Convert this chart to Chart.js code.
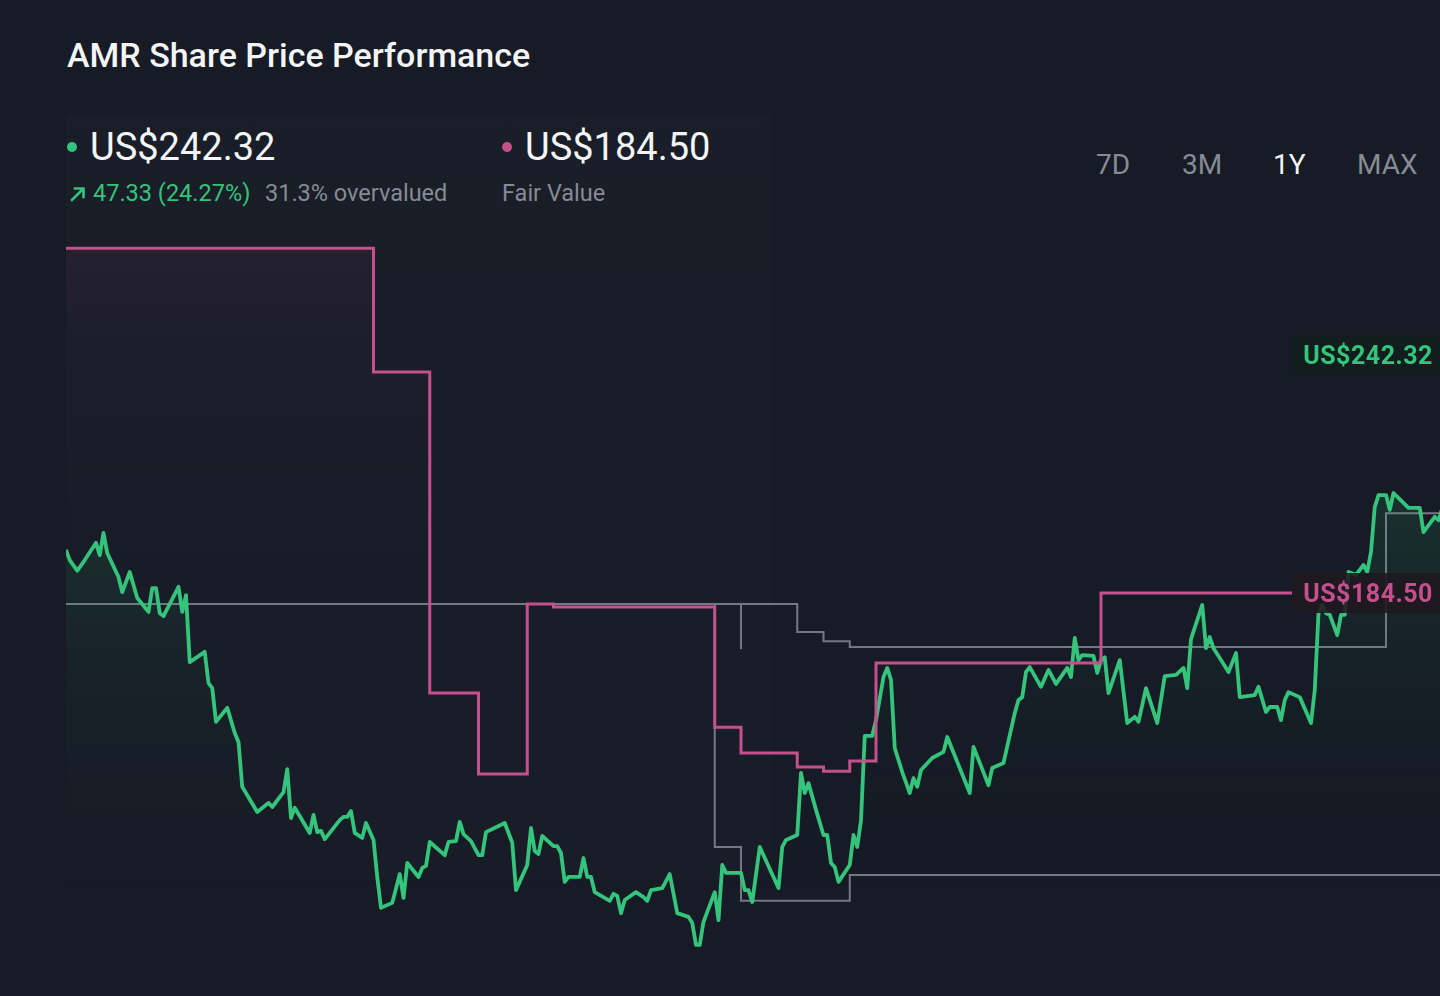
<!DOCTYPE html>
<html>
<head>
<meta charset="utf-8">
<script src="https://cdn.jsdelivr.net/npm/chart.js@4/dist/chart.umd.min.js"></script>
<style>
  html, body { margin: 0; padding: 0; }
  body { width: 1440px; height: 996px; background: #161b25; overflow: hidden; position: relative; font-family: Roboto, "Noto Sans", sans-serif; }
  .txt { position: absolute; white-space: nowrap; line-height: 1; transform-origin: 0 0; }
  #panel { position: absolute; left: 66px; top: 115px; width: 705px; height: 765px; background: linear-gradient(180deg, rgba(255,255,255,0.012), rgba(255,255,255,0.008)); }
  #title { left: 67px; top: 38px; font-size: 34px; font-weight: 500; color: #f4f5f7; }
  .dot { position: absolute; width: 10px; height: 10px; border-radius: 50%; }
  .big { top: 128px; font-size: 38px; color: #f4f5f7; }
  .sub { top: 182px; font-size: 23.5px; }
  .btn { top: 151px; font-size: 28px; color: #868b94; }
  #arrow { position: absolute; left: 69px; top: 185px; }
  #chartWrap { position: absolute; left: 66px; top: 230px; width: 1374px; height: 730px; }
</style>
</head>
<body>
<div id="panel"></div>
<div id="title" class="txt">AMR Share Price Performance</div>

<div class="dot" style="left:67px; top:142px; background:#35c47c;"></div>
<div class="txt big" style="left:90px;">US$242.32</div>
<svg id="arrow" width="18" height="18" viewBox="0 0 18 18">
  <path d="M3 15 L14 4 M6 3.5 H14.5 V12" stroke="#35c47c" stroke-width="2.6" fill="none" stroke-linecap="square"/>
</svg>
<div class="txt sub" style="left:93px; color:#35c47c;">47.33 (24.27%)</div>
<div class="txt sub" style="left:265px; color:#868b94;">31.3% overvalued</div>

<div class="dot" style="left:502px; top:142px; background:#c5508e;"></div>
<div class="txt big" style="left:525px;">US$184.50</div>
<div class="txt sub" style="left:502px; color:#868b94;">Fair Value</div>

<div class="txt btn" style="left:1096px;">7D</div>
<div class="txt btn" style="left:1182px;">3M</div>
<div class="txt btn" style="left:1273px; color:#f4f5f7;">1Y</div>
<div class="txt btn" style="left:1357px;">MAX</div>

<div id="chartWrap"><canvas id="priceChart"></canvas></div>

<script>
// share price, days since the start of the 1Y window
const priceDays = [0,1,3,5,8,9,10,11,14,15,17,19,22,23,24,25,26,30,31,32,33,37,38,39,40,43,45,46,47,51,54,55,58,59,60,61,65,66,67,68,69,73,74,75,76,77,79,80,82,83,84,87,89,90,91,94,95,96,97,101,102,104,105,106,108,110,111,112,117,119,120,123,124,125,126,127,130,131,132,133,134,137,138,139,140,141,145,146,147,148,149,152,154,155,156,159,161,163,166,167,168,169,170,173,174,175,176,180,181,182,183,185,190,191,192,195,196,197,198,200,202,203,204,205,206,209,210,211,212,213,215,216,218,219,220,221,223,225,226,227,228,231,234,235,241,242,246,247,250,253,254,255,256,257,260,262,264,267,268,269,270,271,274,275,276,277,278,281,283,285,286,288,291,293,296,298,299,300,303,304,305,306,308,310,312,313,317,318,320,321,323,324,325,326,329,332,333,334,335,336,337,339,340,341,342,344,346,347,348,349,350,352,353,354,358,361,362,365,366,380]
const priceValues = [195.0,192.5,189.9,192.5,196.7,193.7,199.1,194.2,188.4,184.7,189.6,183.3,179.9,185.7,185.7,179.6,178.9,186.0,179.9,184.0,167.7,170.2,162.6,161.4,153.2,156.6,150.5,148.3,137.4,131.3,133.5,132.5,136.1,141.7,129.8,132.3,126.2,130.6,126.4,126.7,124.7,129.3,130.1,130.1,131.5,126.2,125.0,128.6,124.5,115.5,108.0,109.2,116.2,110.4,118.9,115.5,117.7,118.2,124.0,120.8,124.0,124.2,128.9,125.9,124.2,120.8,120.8,126.4,128.6,123.8,112.3,118.4,127.4,121.8,121.1,125.5,123.0,123.0,121.3,114.3,115.5,115.5,120.1,115.5,115.5,111.8,109.7,111.4,110.9,106.7,109.9,111.8,110.6,109.7,112.3,112.8,116.2,106.7,105.8,104.3,99.0,99.0,104.6,111.8,105.0,118.4,116.5,116.5,112.3,112.3,109.4,122.8,112.8,122.8,124.5,125.7,140.8,135.9,138.3,131.8,125.7,125.7,118.9,117.9,114.3,118.4,125.7,122.8,129.3,149.8,149.8,153.6,164.1,166.3,163.4,146.8,141.0,135.9,139.5,137.4,141.5,144.4,145.9,149.5,135.9,147.1,137.8,142.0,143.2,155.3,158.5,159.2,165.3,166.5,161.7,165.8,162.4,166.3,164.1,173.6,168.2,169.4,169.2,165.1,168.2,168.9,160.2,168.2,152.9,154.4,153.2,161.4,152.9,164.3,164.6,166.3,161.4,173.3,181.6,171.1,173.8,171.1,168.2,165.3,169.9,159.2,159.7,161.7,155.6,156.8,156.8,153.6,158.5,160.4,159.2,152.9,160.9,179.6,181.6,179.6,179.2,174.3,179.2,179.2,189.6,188.9,191.3,189.6,194.5,205.4,208.3,208.3,204.7,208.8,205.2,205.2,199.3,203.0,202.2,242.32]

// fair value estimate (steps)
const fairDays = [0,82,97,110,123,130,173,180,195,202,209,216,276,327]
const fairValues = [268.3,238.2,160.2,140.5,181.8,181.1,151.9,145.6,142.2,141.2,143.7,167.5,184.5,184.5]

// analyst target range (steps)
const highDays = [0,180,180,195,202,209,352,380]
const highValues = [181.8,170.9,181.8,175.0,172.8,171.4,203.9,203.9]
const lowDays = [0,173,180,209,380]
const lowValues = [181.8,122.8,109.7,116.0,116.0]

const lastPrice = 242.32
const fairValue = 184.50
const labelDay = 327

const green = "#35c47c"
const pink = "#c5508e"
const grey = "#737984"

function toPoints(days, vals) {
  return days.map(function(d, i) { return {x: d, y: vals[i]} })
}

function fade(ctx, color, top, bottom) {
  const area = ctx.chart.chartArea
  if (!area) return "transparent"
  const g = ctx.chart.ctx.createLinearGradient(0, area.top + top, 0, area.top + bottom)
  g.addColorStop(0, color)
  g.addColorStop(1, "rgba(0,0,0,0)")
  return g
}

// price tags on the right edge
const priceTags = {
  id: "priceTags",
  afterDatasetsDraw(chart) {
    const c = chart.ctx
    const xs = chart.scales.x
    const ys = chart.scales.y
    const tags = [
      {v: lastPrice, text: "US$242.32", color: green, bg: "rgba(18,30,30,0.88)"},
      {v: fairValue, text: "US$184.50", color: pink, bg: "rgba(32,24,32,0.88)"}
    ]
    c.save()
    tags.forEach(function(t) {
      const y = ys.getPixelForValue(t.v)
      const x = xs.getPixelForValue(labelDay)
      c.fillStyle = t.bg
      c.fillRect(x, y - 20, chart.width - x, 40)
      c.fillStyle = t.color
      c.font = "bold 25px Roboto"
      c.textBaseline = "middle"
      if ("letterSpacing" in c) c.letterSpacing = "0.5px"
      c.fillText(t.text, x + 11, y + 3)
    })
    c.restore()
  }
}

new Chart(document.getElementById("priceChart"), {
  type: "line",
  data: {
    datasets: [{
      label: "Fair Value",
      data: toPoints(fairDays, fairValues),
      borderColor: pink,
      borderWidth: 3,
      stepped: true,
      pointRadius: 0,
      fill: "start",
      backgroundColor: function(ctx) { return fade(ctx, "rgba(197,80,142,0.07)", 18, 380) }
    }, {
      label: "Share Price",
      data: toPoints(priceDays, priceValues),
      borderColor: green,
      borderWidth: 3.8,
      borderJoinStyle: "round",
      pointRadius: 0,
      tension: 0,
      fill: "start",
      backgroundColor: function(ctx) { return fade(ctx, "rgba(53,196,124,0.13)", 270, 660) }
    }, {
      label: "Analyst High",
      data: toPoints(highDays, highValues),
      borderColor: grey,
      borderWidth: 2,
      stepped: true,
      pointRadius: 0,
      fill: false
    }, {
      label: "Analyst Low",
      data: toPoints(lowDays, lowValues),
      borderColor: grey,
      borderWidth: 2,
      stepped: true,
      pointRadius: 0,
      fill: false
    }]
  },
  options: {
    responsive: true,
    maintainAspectRatio: false,
    animation: false,
    layout: { padding: 0 },
    plugins: {
      legend: { display: false },
      tooltip: { enabled: false }
    },
    scales: {
      x: { type: "linear", min: 0, max: 366.4, display: false },
      y: { min: 95.32, max: 272.71, display: false }
    }
  },
  plugins: [priceTags]
})
</script>
</body>
</html>
